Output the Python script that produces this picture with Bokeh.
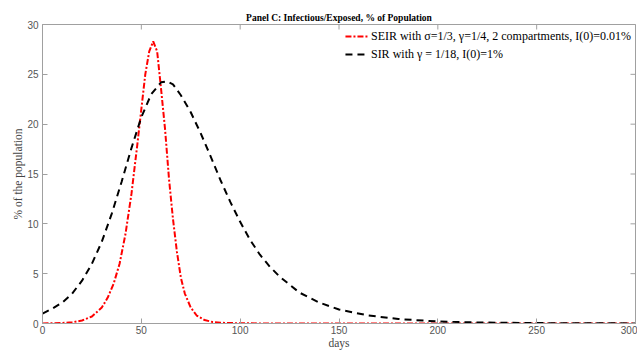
import math
from bokeh.plotting import figure
from bokeh.models import Legend, LegendItem, Range1d, FixedTicker
from bokeh.embed import file_html
from bokeh.resources import INLINE

# SEIR (red, dash-dot)
seir_days = [0, 5, 10, 15, 20, 25, 30, 33, 36, 39, 42, 45, 48, 50, 52, 54, 56, 58, 60, 62,
             64, 66, 68, 70, 72, 75, 78, 82, 86, 90, 100, 120, 300]
seir_vals = [0.01, 0.02, 0.05, 0.12, 0.3, 0.7, 1.6, 2.6, 4.0, 6.0, 9.0, 13.0, 18.0, 21.5, 25.0,
             27.3, 28.3, 27.3, 23.5, 19.5, 14.5, 10.5, 7.2, 4.6, 3.0, 1.6, 0.8, 0.35, 0.15, 0.07,
             0.02, 0.0, 0.0]

# SIR (black, dashed)
sir_days = [0, 5, 10, 15, 20, 25, 30, 35, 40, 45, 50, 55, 60, 63, 66, 70, 75, 80, 85, 90, 95,
            100, 105, 110, 115, 120, 130, 140, 150, 165, 180, 200, 220, 250, 300]
sir_vals = [1.0, 1.5, 2.1, 3.0, 4.3, 6.0, 8.2, 11.0, 14.2, 17.6, 20.7, 23.0, 24.2, 24.3, 24.0,
            22.9, 21.2, 19.1, 16.8, 14.4, 12.2, 10.2, 8.4, 6.9, 5.7, 4.7, 3.1, 2.1, 1.4, 0.8,
            0.45, 0.2, 0.1, 0.04, 0.01]

x_ticks = [0, 50, 100, 150, 200, 250, 300]
y_ticks = [0, 5, 10, 15, 20, 25, 30]

title_text = "Panel C: Infectious/Exposed, % of Population"
label_seir = "SEIR with σ=1/3, γ=1/4, 2 compartments, I(0)=0.01%"
label_sir = "SIR with γ = 1/18, I(0)=1%"

SERIF = "Liberation Serif"
SANS = "Liberation Sans"
AX = "#a0a0a0"

p = figure(width=637, height=351, output_backend="svg", toolbar_location=None,
           x_range=Range1d(x_ticks[0], x_ticks[-1]), y_range=Range1d(y_ticks[0], y_ticks[-1]),
           min_border_left=42, min_border_right=2, min_border_top=24, min_border_bottom=26)

p.title.text = title_text
p.title.text_font = SERIF
p.title.text_font_size = "9.5px"
p.title.text_font_style = "bold"
p.title.align = "center"
p.title.text_color = "#000000"
p.title.standoff = 4

p.outline_line_color = AX
p.xgrid.visible = False
p.ygrid.visible = False
p.background_fill_color = "white"
p.border_fill_color = "white"

r1 = p.line(seir_days, seir_vals, line_color="#ff0000", line_width=2, line_dash="6 2 2 2")
r2 = p.line(sir_days, sir_vals, line_color="#000000", line_width=2, line_dash="7 5")

# inward ticks on the top and right edges of the box
p.scatter(x_ticks, [y_ticks[-1]] * len(x_ticks), marker="dash", size=10, angle=math.pi / 2,
          line_color=AX, line_width=1)
p.scatter([x_ticks[-1]] * len(y_ticks), y_ticks, marker="dash", size=10,
          line_color=AX, line_width=1)

for ax in (p.xaxis[0], p.yaxis[0]):
    ax.major_tick_in = 5
    ax.major_tick_out = 0
    ax.minor_tick_line_color = None
    ax.axis_line_color = AX
    ax.major_tick_line_color = AX
    ax.major_label_text_font = SANS
    ax.major_label_text_font_size = "10px"
    ax.major_label_text_color = "#555555"
    ax.axis_label_text_font = SERIF
    ax.axis_label_text_font_size = "11.5px"
    ax.axis_label_text_font_style = "normal"
    ax.axis_label_text_color = "#444444"
    ax.major_label_standoff = 2
    ax.axis_label_standoff = 0

p.xaxis[0].ticker = FixedTicker(ticks=x_ticks)
p.yaxis[0].ticker = FixedTicker(ticks=y_ticks)
p.yaxis[0].major_label_standoff = 4
p.yaxis[0].axis_label_standoff = 0
p.xaxis[0].axis_label = "days"
p.yaxis[0].axis_label = "% of the population"

legend = Legend(items=[LegendItem(label=label_seir, renderers=[r1]),
                       LegendItem(label=label_sir, renderers=[r2])],
                location="top_right")
legend.label_text_font = SERIF
legend.label_text_font_size = "12px"
legend.label_text_color = "#000000"
legend.border_line_color = None
legend.background_fill_alpha = 0
legend.glyph_width = 24
legend.glyph_height = 16
legend.label_height = 16
legend.label_standoff = 2
legend.spacing = 2
legend.padding = 3
legend.margin = 4
p.add_layout(legend)

open("out.html", "w").write(file_html(p, INLINE))
